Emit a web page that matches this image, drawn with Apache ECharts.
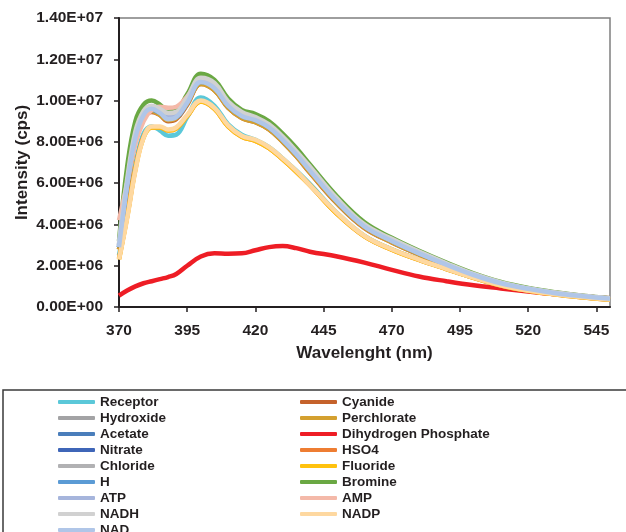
<!DOCTYPE html>
<html>
<head>
    <meta charset="utf-8">
    <title>Emission spectra</title>
    <script src="https://cdn.jsdelivr.net/npm/echarts@6/dist/echarts.min.js"></script>
    <style>
        html, body { margin: 0; padding: 0; background: #fff; }
    </style>
</head>
<body>
    <div id="main" style="width: 626px;height:532px;"></div>
    <script>
        // wavelength (nm) and intensities in units of 1e6 cps
        var wavelengths = [370, 373, 376, 379, 382, 385, 388, 391, 395, 400, 405, 410, 415, 420, 425, 430, 435, 440, 450, 460, 470, 480, 490, 500, 510, 520, 530, 540, 550];
        var xTicks = [370, 395, 420, 445, 470, 495, 520, 545];

        var receptor    = [2.5, 4.6, 6.9, 8.4, 8.75, 8.55, 8.3, 8.35, 9.2, 10.15, 9.75, 8.85, 8.35, 8.1, 7.75, 7.2, 6.6, 5.95, 4.55, 3.45, 2.8, 2.3, 1.85, 1.42, 1.05, 0.8, 0.62, 0.48, 0.36];
        var cyanide     = [2.8, 5.7, 8.05, 9.15, 9.45, 9.3, 9.0, 9.1, 9.8, 10.8, 10.5, 9.65, 9.15, 8.95, 8.6, 8.0, 7.3, 6.5, 5.0, 3.82, 3.13, 2.54, 2.01, 1.52, 1.12, 0.85, 0.65, 0.5, 0.39];
        var hydroxide   = [3.0, 6.1, 8.4, 9.4, 9.65, 9.5, 9.25, 9.3, 10.0, 11.0, 10.75, 9.85, 9.35, 9.15, 8.8, 8.2, 7.5, 6.7, 5.2, 3.95, 3.25, 2.64, 2.08, 1.57, 1.17, 0.89, 0.69, 0.53, 0.41];
        var perchlorate = [2.8, 5.75, 8.1, 9.2, 9.5, 9.3, 9.05, 9.15, 9.85, 10.8, 10.5, 9.65, 9.15, 8.95, 8.6, 8.0, 7.3, 6.52, 5.02, 3.84, 3.14, 2.55, 2.02, 1.53, 1.13, 0.86, 0.66, 0.51, 0.39];
        var acetate     = [2.9, 6.0, 8.3, 9.35, 9.6, 9.45, 9.15, 9.25, 9.95, 10.95, 10.65, 9.8, 9.3, 9.1, 8.75, 8.15, 7.45, 6.65, 5.15, 3.92, 3.22, 2.62, 2.06, 1.56, 1.16, 0.88, 0.68, 0.52, 0.4];
        var dihydrogenPhosphate = [0.55, 0.8, 1.0, 1.15, 1.25, 1.35, 1.45, 1.6, 2.0, 2.45, 2.6, 2.58, 2.6, 2.75, 2.9, 2.95, 2.85, 2.68, 2.45, 2.15, 1.8, 1.48, 1.25, 1.05, 0.9, 0.75, 0.62, 0.51, 0.42];
        var nitrate     = [2.9, 6.0, 8.35, 9.4, 9.6, 9.45, 9.2, 9.25, 9.95, 10.95, 10.7, 9.8, 9.3, 9.1, 8.75, 8.15, 7.45, 6.7, 5.15, 3.93, 3.23, 2.62, 2.07, 1.56, 1.16, 0.88, 0.68, 0.52, 0.4];
        var hso4        = [2.35, 4.4, 6.7, 8.25, 8.7, 8.7, 8.55, 8.65, 9.25, 9.95, 9.6, 8.75, 8.25, 8.05, 7.7, 7.15, 6.55, 5.9, 4.5, 3.42, 2.78, 2.28, 1.84, 1.41, 1.04, 0.79, 0.61, 0.47, 0.35];
        var chloride    = [3.0, 6.1, 8.4, 9.45, 9.65, 9.5, 9.2, 9.3, 10.0, 11.0, 10.75, 9.85, 9.35, 9.15, 8.8, 8.2, 7.5, 6.75, 5.2, 3.95, 3.25, 2.64, 2.08, 1.57, 1.17, 0.89, 0.69, 0.53, 0.41];
        var fluoride    = [2.3, 4.35, 6.65, 8.2, 8.7, 8.7, 8.55, 8.65, 9.25, 9.95, 9.6, 8.75, 8.25, 8.05, 7.7, 7.15, 6.55, 5.9, 4.5, 3.42, 2.78, 2.28, 1.84, 1.41, 1.04, 0.79, 0.61, 0.47, 0.35];
        var hIon        = [2.9, 5.9, 8.25, 9.35, 9.55, 9.4, 9.15, 9.2, 9.9, 10.9, 10.65, 9.75, 9.25, 9.05, 8.7, 8.1, 7.4, 6.65, 5.1, 3.9, 3.2, 2.6, 2.05, 1.55, 1.15, 0.87, 0.67, 0.52, 0.4];
        var bromine     = [3.2, 6.8, 9.0, 9.8, 10.0, 9.8, 9.5, 9.55, 10.3, 11.3, 11.0, 10.1, 9.55, 9.35, 9.0, 8.4, 7.7, 6.9, 5.35, 4.1, 3.35, 2.72, 2.15, 1.63, 1.21, 0.92, 0.71, 0.55, 0.43];
        var atp         = [3.0, 6.0, 8.3, 9.35, 9.6, 9.45, 9.2, 9.25, 9.95, 10.95, 10.7, 9.8, 9.3, 9.1, 8.75, 8.15, 7.45, 6.7, 5.15, 3.93, 3.23, 2.62, 2.07, 1.56, 1.16, 0.88, 0.68, 0.52, 0.4];
        var amp         = [4.2, 6.0, 7.9, 9.0, 9.55, 9.7, 9.65, 9.7, 10.2, 10.95, 10.65, 9.8, 9.3, 9.1, 8.75, 8.15, 7.45, 6.65, 5.15, 3.92, 3.22, 2.62, 2.06, 1.56, 1.16, 0.88, 0.68, 0.52, 0.4];
        var nadh        = [3.1, 6.2, 8.5, 9.5, 9.75, 9.6, 9.4, 9.45, 10.15, 11.1, 10.85, 9.95, 9.45, 9.2, 8.85, 8.25, 7.55, 6.8, 5.25, 4.0, 3.3, 2.68, 2.12, 1.6, 1.19, 0.9, 0.7, 0.54, 0.42];
        var nadp        = [2.3, 4.3, 6.6, 8.2, 8.75, 8.75, 8.6, 8.7, 9.3, 10.0, 9.65, 8.8, 8.3, 8.1, 7.75, 7.2, 6.6, 5.9, 4.55, 3.45, 2.8, 2.3, 1.85, 1.42, 1.05, 0.8, 0.62, 0.48, 0.36];
        var nad         = [2.9, 5.9, 8.2, 9.3, 9.6, 9.4, 9.1, 9.2, 9.9, 10.9, 10.6, 9.75, 9.25, 9.05, 8.7, 8.1, 7.4, 6.6, 5.1, 3.9, 3.2, 2.6, 2.05, 1.55, 1.15, 0.88, 0.67, 0.52, 0.4];

        var legendLeft = ['Receptor', 'Hydroxide', 'Acetate', 'Nitrate', 'Chloride', 'H', 'ATP', 'NADH', 'NAD'];
        var legendRight = ['Cyanide', 'Perchlorate', 'Dihydrogen Phosphate', 'HSO4', 'Fluoride', 'Bromine', 'AMP', 'NADP'];

        // drawing order (Excel order, row by row in the legend)
        var seriesList = [
            { name: 'Receptor', color: '#5bc8d9', data: receptor },
            { name: 'Cyanide', color: '#c5622b', data: cyanide },
            { name: 'Hydroxide', color: '#a3a3a5', data: hydroxide },
            { name: 'Perchlorate', color: '#d4a02f', data: perchlorate },
            { name: 'Acetate', color: '#4a7ebb', data: acetate },
            { name: 'Dihydrogen Phosphate', color: '#ee1d25', data: dihydrogenPhosphate },
            { name: 'Nitrate', color: '#3f66b8', data: nitrate },
            { name: 'HSO4', color: '#ee7d32', data: hso4 },
            { name: 'Chloride', color: '#b1b1b3', data: chloride },
            { name: 'Fluoride', color: '#ffc20e', data: fluoride },
            { name: 'H', color: '#5b9bd5', data: hIon },
            { name: 'Bromine', color: '#6aa843', data: bromine },
            { name: 'ATP', color: '#a6b5dc', data: atp },
            { name: 'AMP', color: '#f4b9a9', data: amp },
            { name: 'NADH', color: '#d1d1d1', data: nadh },
            { name: 'NADP', color: '#fed8a0', data: nadp },
            { name: 'NAD', color: '#b0c6e8', data: nad }
        ];

        function sci(v) {
            if (v === 0) return '0.00E+00';
            var e = Math.floor(Math.log10(v) + 1e-9);
            var m = v / Math.pow(10, e);
            return m.toFixed(2) + 'E+' + (e < 10 ? '0' : '') + e;
        }

        var myChart = echarts.init(document.getElementById('main'));
        var txt = '#231f20';
        var font = 'Liberation Sans, Arial, sans-serif';

        var legendBase = {
            orient: 'vertical',
            top: 394,
            height: 300,
            padding: 0,
            itemWidth: 37,
            itemHeight: 4,
            itemGap: 0,
            icon: 'roundRect',
            selectedMode: false,
            textStyle: { color: txt, fontSize: 13.5, fontWeight: 'bold', fontFamily: font, lineHeight: 16 }
        };

        option = {
            backgroundColor: '#fff',
            animation: false,
            textStyle: { fontFamily: font },
            grid: {
                left: 119, top: 18, right: 16, bottom: 225,
                show: true, borderColor: '#7f7f7f', borderWidth: 1.5,
                containLabel: false
            },
            legend: [
                Object.assign({}, legendBase, { left: 58, data: legendLeft }),
                Object.assign({}, legendBase, { left: 300, data: legendRight })
            ],
            graphic: [{
                type: 'rect',
                shape: { x: 3, y: 390, width: 700, height: 300 },
                style: { fill: 'none', stroke: '#3a3a3a', lineWidth: 1.5 },
                z: -1
            }],
            xAxis: {
                type: 'value',
                min: 370,
                max: 550,
                name: 'Wavelenght (nm)',
                nameLocation: 'middle',
                nameGap: 38,
                nameMoveOverlap: false,
                nameTextStyle: { color: txt, fontSize: 17, fontWeight: 'bold', fontFamily: font },
                axisLine: { lineStyle: { color: txt, width: 2 } },
                axisTick: { length: 5, lineStyle: { color: txt, width: 1.5 }, customValues: xTicks },
                axisLabel: { color: txt, fontSize: 15.5, fontWeight: 'bold', margin: 16, customValues: xTicks },
                splitLine: { show: false }
            },
            yAxis: {
                type: 'value',
                min: 0,
                max: 14000000,
                interval: 2000000,
                name: 'Intensity (cps)',
                nameLocation: 'middle',
                nameGap: 88,
                nameMoveOverlap: false,
                nameTextStyle: { color: txt, fontSize: 17, fontWeight: 'bold', fontFamily: font },
                axisLine: { show: true, lineStyle: { color: txt, width: 2 } },
                axisTick: { show: true, length: 5, lineStyle: { color: txt, width: 1.5 } },
                axisLabel: { color: txt, fontSize: 15.5, fontWeight: 'bold', margin: 16, formatter: sci },
                splitLine: { show: false }
            },
            series: seriesList.map(function (s) {
                return {
                    name: s.name,
                    type: 'line',
                    smooth: 0.4,
                    showSymbol: false,
                    symbol: 'none',
                    color: s.color,
                    lineStyle: { width: 4.5, color: s.color },
                    data: s.data.map(function (v, i) { return [wavelengths[i], v * 1e6]; })
                };
            })
        };
        myChart.setOption(option);
    </script>
</body>
</html>
